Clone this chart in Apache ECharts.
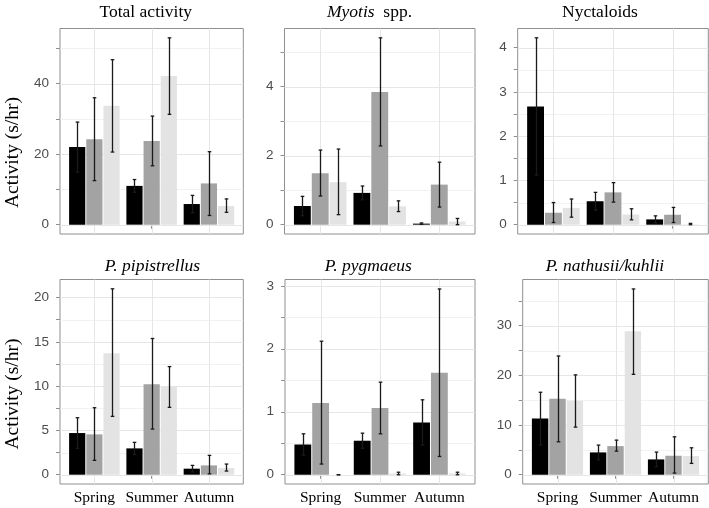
<!DOCTYPE html>
<html><head><meta charset="utf-8">
<script src="https://cdn.jsdelivr.net/npm/echarts@6/dist/echarts.min.js"></script>
<style>html,body{margin:0;padding:0;background:#fff}#c{width:709px;height:508px}</style>
</head><body><div id="c"></div>
<script>
// ---------- DATA ----------
const seasons = ['Spring', 'Summer', 'Autumn'];
const groups = ['Group 1', 'Group 2', 'Group 3'];

// Total activity  (rows = groups, columns = seasons)
const totalMean = [[22.0, 11.0, 5.85], [24.2, 23.7, 11.7], [33.7, 42.2, 5.3]];
const totalLow  = [[14.9, 9.2, 3.4],   [12.5, 16.7, 2.6],  [20.6, 31.3, 3.5]];
const totalHigh = [[29.1, 12.8, 8.3],  [36.0, 30.8, 20.7], [46.8, 53.0, 7.3]];
const totalTicks = [0, 20, 40];
const totalMinor = [10, 30, 50];
const totalRange = [-2.65, 55.65];

// Myotis spp.
const myoMean = [[0.54, 0.92, 0.03], [1.49, 3.84, 1.16], [1.23, 0.53, 0.09]];
const myoLow  = [[0.26, 0.72, 0.01], [0.83, 2.28, 0.51], [0.29, 0.38, 0.0]];
const myoHigh = [[0.82, 1.12, 0.05], [2.16, 5.41, 1.81], [2.19, 0.69, 0.18]];
const myoTicks = [0, 2, 4];
const myoMinor = [1, 3, 5];
const myoRange = [-0.27, 5.68];

// Nyctaloids
const nycMean = [[2.67, 0.53, 0.12], [0.27, 0.73, 0.225], [0.38, 0.23, 0.01]];
const nycLow  = [[1.12, 0.33, 0.04], [0.05, 0.51, 0.05],  [0.17, 0.11, 0.0]];
const nycHigh = [[4.22, 0.73, 0.20], [0.50, 0.95, 0.39],  [0.58, 0.36, 0.03]];
const nycTicks = [0, 1, 2, 3, 4];
const nycMinor = [0.5, 1.5, 2.5, 3.5];
const nycRange = [-0.21, 4.43];

// P. pipistrellus
const pipMean = [[4.7, 2.97, 0.68], [4.55, 10.22, 1.05], [13.72, 9.96, 0.75]];
const pipLow  = [[2.97, 2.3, 0.3],  [1.62, 5.15, 0.1],   [6.58, 7.6, 0.41]];
const pipHigh = [[6.43, 3.65, 1.05],[7.56, 15.37, 2.18], [20.98, 12.2, 1.2]];
const pipTicks = [0, 5, 10, 15, 20];
const pipMinor = [2.5, 7.5, 12.5, 17.5];
const pipRange = [-1.05, 22.03];

// P. pygmaeus
const pygMean = [[0.48, 0.54, 0.83], [1.14, 1.06, 1.62], [0.0, 0.02, 0.02]];
const pygLow  = [[0.31, 0.42, 0.47], [0.17, 0.65, 0.29], [0.0, 0.0, 0.0]];
const pygHigh = [[0.65, 0.66, 1.19], [2.12, 1.47, 2.95], [0.0, 0.04, 0.04]];
const pygTicks = [0, 1, 2, 3];
const pygMinor = [0.5, 1.5, 2.5];
const pygRange = [-0.147, 3.1];

// P. nathusii/kuhlii
const natMean = [[11.32, 4.49, 3.08], [15.27, 5.76, 3.82], [14.87, 28.86, 3.75]];
const natLow  = [[6.0, 3.0, 1.6],     [6.63, 4.75, 0.33],  [9.58, 20.2, 2.28]];
const natHigh = [[16.6, 5.96, 4.55],  [23.9, 6.96, 7.63],  [20.1, 37.4, 5.42]];
const natTicks = [0, 10, 20, 30];
const natMinor = [5, 15, 25, 35];
const natRange = [-1.87, 39.3];

// ---------- LAYOUT / STYLE ----------
const panels = [
  {mean: totalMean, low: totalLow, high: totalHigh, ticks: totalTicks, minor: totalMinor, range: totalRange},
  {mean: myoMean, low: myoLow, high: myoHigh, ticks: myoTicks, minor: myoMinor, range: myoRange},
  {mean: nycMean, low: nycLow, high: nycHigh, ticks: nycTicks, minor: nycMinor, range: nycRange},
  {mean: pipMean, low: pipLow, high: pipHigh, ticks: pipTicks, minor: pipMinor, range: pipRange},
  {mean: pygMean, low: pygLow, high: pygHigh, ticks: pygTicks, minor: pygMinor, range: pygRange},
  {mean: natMean, low: natLow, high: natHigh, ticks: natTicks, minor: natMinor, range: natRange}
];
const boxes = [
  {left: 60,    top: 28.5, width: 183.3, height: 205.5},
  {left: 284.5, top: 28.5, width: 190.5, height: 205.5},
  {left: 517.7, top: 28.5, width: 190.6, height: 205.5},
  {left: 60,    top: 279.5, width: 183.3, height: 204.5},
  {left: 285,   top: 279.5, width: 190,   height: 204.5},
  {left: 522.7, top: 279.5, width: 185.6, height: 204.5}
];
const titlePos = [[145.8, 12], [369.5, 12], [600, 12], [152.5, 266.4], [368.3, 266.4], [605, 266.4]];
const fills = ['#000000', '#a3a3a3', '#e3e3e3'];
const borderCol = '#8f8f8f';
const serif = 'Liberation Serif';
const sans = 'Liberation Sans';
const dodge = 0.3;   // width of each bar in category units

const catIdx = seasons.map((s, k) => k + 1);

function gridLineRender(params, api) {
  const cs = params.coordSys;
  const y = Math.round(api.coord([1, api.value(1)])[1]) + 0.5;
  const major = api.value(2) === 1;
  return {type: 'line', shape: {x1: cs.x, y1: y, x2: cs.x + cs.width, y2: y},
    style: {stroke: major ? '#e6e6e6' : '#efefef', lineWidth: major ? 1 : 0.8}};
}
function vLineRender(params, api) {
  const cs = params.coordSys;
  const x = Math.round(api.coord([api.value(0), 0])[0]) + 0.5;
  return {type: 'line', shape: {x1: x, y1: cs.y, x2: x, y2: cs.y + cs.height},
    style: {stroke: '#e6e6e6', lineWidth: 1}};
}
function barRender(offset, color) {
  return function (params, api) {
    const x = api.value(0) + offset;
    const a = api.coord([x - dodge / 2, 0]);
    const b = api.coord([x + dodge / 2, api.value(1)]);
    return {type: 'rect', shape: {x: a[0] + 0.5, y: Math.min(a[1], b[1]), width: b[0] - a[0] - 1, height: Math.abs(a[1] - b[1])},
      style: {fill: color}};
  };
}
function errRender(offset) {
  return function (params, api) {
    const x = api.value(0) + offset;
    const c = api.coord([x, api.value(1)]);
    const d = api.coord([x, api.value(2)]);
    const xx = Math.round(c[0]) + 0.5;
    const cap = 1.8;
    const st = {stroke: '#1a1a1a', lineWidth: 1.3};
    return {type: 'group', children: [
      {type: 'line', shape: {x1: xx, y1: c[1], x2: xx, y2: d[1]}, style: st},
      {type: 'line', shape: {x1: xx - cap, y1: c[1], x2: xx + cap, y2: c[1]}, style: st},
      {type: 'line', shape: {x1: xx - cap, y1: d[1], x2: xx + cap, y2: d[1]}, style: st}
    ]};
  };
}

const grid = [], xAxis = [], yAxis = [], series = [];
panels.forEach((p, i) => {
  const b = boxes[i];
  grid.push({left: b.left, top: b.top, width: b.width, height: b.height, show: true,
    borderColor: borderCol, borderWidth: 1, backgroundColor: 'transparent'});
  xAxis.push({gridIndex: i, type: 'value', min: 0.4, max: 3.6,
    axisLine: {show: false}, splitLine: {show: false},
    axisTick: {show: true, customValues: catIdx, length: 4, lineStyle: {color: borderCol}},
    axisLabel: {show: i >= 3, customValues: catIdx, formatter: v => seasons[Math.round(v) - 1] || '',
      fontFamily: serif, fontSize: 15.5, color: '#000', margin: 6}});
  const allTicks = p.ticks.concat(p.minor).sort((a, c) => a - c);
  yAxis.push({gridIndex: i, type: 'value', min: p.range[0], max: p.range[1],
    axisLine: {show: false}, splitLine: {show: false},
    axisTick: {show: true, customValues: allTicks, length: 4, lineStyle: {color: borderCol}},
    axisLabel: {customValues: p.ticks, fontFamily: sans, fontSize: 13.5, color: '#4d4d4d', margin: 11}});
  const gridData = p.ticks.map(v => [1, v, 1]).concat(p.minor.map(v => [1, v, 0]));
  series.push({type: 'custom', xAxisIndex: i, yAxisIndex: i, z: 1, silent: true,
    renderItem: gridLineRender, data: gridData});
  series.push({type: 'custom', xAxisIndex: i, yAxisIndex: i, z: 1, silent: true,
    renderItem: vLineRender, data: catIdx.map(k => [k, 0])});
  groups.forEach((g, gi) => {
    const off = (gi - 1) * dodge;
    series.push({type: 'custom', name: g, xAxisIndex: i, yAxisIndex: i, z: 2,
      renderItem: barRender(off, fills[gi]),
      data: seasons.map((s, k) => [catIdx[k], p.mean[gi][k]])});
  });
  groups.forEach((g, gi) => {
    const off = (gi - 1) * dodge;
    series.push({type: 'custom', name: g + ' CI', xAxisIndex: i, yAxisIndex: i, z: 3,
      renderItem: errRender(off),
      data: seasons.map((s, k) => [catIdx[k], p.low[gi][k], p.high[gi][k]])});
  });
});

const titleStyle = {fontFamily: serif, fontSize: 17.5, fill: '#000', align: 'center', verticalAlign: 'middle'};
const titleTexts = [
  {text: 'Total activity'},
  {text: '{i|Myotis}  spp.', rich: {i: {fontStyle: 'italic', fontFamily: serif, fontSize: 17.5}}},
  {text: 'Nyctaloids'},
  {text: 'P. pipistrellus', fontStyle: 'italic'},
  {text: 'P. pygmaeus', fontStyle: 'italic'},
  {text: 'P. nathusii/kuhlii', fontStyle: 'italic'}
];
const graphic = titleTexts.map((t, i) => ({type: 'text', x: titlePos[i][0], y: titlePos[i][1],
  style: Object.assign({}, titleStyle, t)}));
[[13, 152.5], [13, 394]].forEach(pt => {
  graphic.push({type: 'text', x: pt[0], y: pt[1], rotation: Math.PI / 2,
    style: {text: 'Activity (s/hr)', fontFamily: serif, fontSize: 19.5, fill: '#000', align: 'center', verticalAlign: 'middle'}});
});

const chart = echarts.init(document.getElementById('c'), null, {renderer: 'canvas'});
chart.setOption({animation: false, backgroundColor: '#fff', grid, xAxis, yAxis, series, graphic});
</script></body></html>
